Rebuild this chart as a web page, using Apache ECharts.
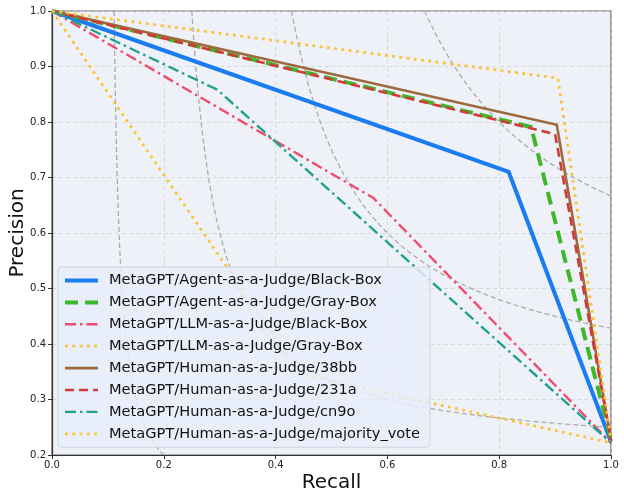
<!DOCTYPE html>
<html>
<head>
<meta charset="utf-8">
<script src="https://cdn.jsdelivr.net/npm/echarts@6/dist/echarts.min.js"></script>
<style>html,body{margin:0;padding:0;background:#fff}#c{width:624px;height:495px}</style>
</head>
<body>
<div id="c"></div>
<script>
// ---- data ----
const xTicks = [0.0, 0.2, 0.4, 0.6, 0.8, 1.0];
const yTicks = [0.2, 0.3, 0.4, 0.5, 0.6, 0.7, 0.8, 0.9, 1.0];
const seriesNames = [
  'MetaGPT/Agent-as-a-Judge/Black-Box',
  'MetaGPT/Agent-as-a-Judge/Gray-Box',
  'MetaGPT/LLM-as-a-Judge/Black-Box',
  'MetaGPT/LLM-as-a-Judge/Gray-Box',
  'MetaGPT/Human-as-a-Judge/38bb',
  'MetaGPT/Human-as-a-Judge/231a',
  'MetaGPT/Human-as-a-Judge/cn9o',
  'MetaGPT/Human-as-a-Judge/majority_vote'
];
// [recall, precision]
const agentBlackBox = [[0, 1.0], [0.817, 0.710], [1.0, 0.224]];
const agentGrayBox  = [[0, 1.0], [0.857, 0.791], [1.0, 0.228]];
const llmBlackBox   = [[0, 1.0], [0.575, 0.663], [1.0, 0.222]];
const llmGrayBox    = [[0, 1.0], [0.443, 0.346], [1.0, 0.222]];
const human38bb     = [[0, 1.0], [0.903, 0.795], [1.0, 0.226]];
const human231a     = [[0, 1.0], [0.900, 0.778], [1.0, 0.226]];
const humanCn9o     = [[0, 1.0], [0.296, 0.858], [1.0, 0.222]];
const humanMajority = [[0, 1.0], [0.905, 0.879], [1.0, 0.226]];
// iso-F1 reference levels
const isoF1Levels = [0.2, 0.4, 0.6, 0.8];

const seriesData = [agentBlackBox, agentGrayBox, llmBlackBox, llmGrayBox, human38bb, human231a, humanCn9o, humanMajority];
const styles = [
  {color: '#1b7cf2', width: 4,   type: 'solid'},
  {color: '#3eb82a', width: 4,   type: [13, 7]},
  {color: '#ef4d6c', width: 2.4, type: [11, 4, 2.5, 4]},
  {color: '#fdc238', width: 2.8, type: [2.8, 4.5]},
  {color: '#9c6a3c', width: 2.6, type: 'solid'},
  {color: '#d3393b', width: 2.6, type: [9, 5]},
  {color: '#22a08e', width: 2.4, type: [11, 4, 2.5, 4]},
  {color: '#fdc238', width: 2.8, type: [2.8, 4.5]}
];

// iso-F1 curves: P = f*R / (2R - f), restricted to the visible precision range
function isoCurve(f) {
  const pts = [];
  const rStart = f / (2 - f);
  const rEnd = f < 0.4 ? (0.2 * f) / (0.4 - f) : 1.0;
  const n = 120;
  for (let i = 0; i <= n; i++) {
    const r = rStart + (rEnd - rStart) * i / n;
    const p = f * r / (2 * r - f);
    pts.push([r, p]);
  }
  return pts;
}

const series = [];
isoF1Levels.forEach(f => {
  series.push({
    type: 'line', name: 'iso' + f, data: isoCurve(f), showSymbol: false, symbol: 'none',
    silent: true, z: 1, legendHoverLink: false,
    lineStyle: {color: '#aaaaaa', width: 1.3, type: [5, 3]}
  });
});
seriesNames.forEach((name, i) => {
  series.push({
    type: 'line', name: name, data: seriesData[i], symbol: 'none', showSymbol: false, z: 2 + i * 0.01,
    lineStyle: {color: styles[i].color, width: styles[i].width, type: styles[i].type, cap: 'butt', join: 'miter'},
    itemStyle: {color: styles[i].color}
  });
});

const legendData = seriesNames.map((name, i) => ({
  name: name,
  itemStyle: {opacity: 0},
  lineStyle: {color: styles[i].color, width: styles[i].width, type: styles[i].type, cap: 'butt'}
}));

const chart = echarts.init(document.getElementById('c'), null, {renderer: 'canvas'});
chart.setOption({
  animation: false,
  backgroundColor: '#ffffff',
  grid: {left: 52, right: 13, top: 11, bottom: 40, containLabel: false, outerBoundsMode: 'none',
         show: true, backgroundColor: '#eef2f8', borderColor: '#666', borderWidth: 1.2},
  legend: {
    data: legendData,
    orient: 'vertical', left: 58, top: 267,
    itemWidth: 33, itemHeight: 12, itemGap: 6.9,
    padding: [6, 10, 6, 5],
    backgroundColor: 'rgba(232,238,250,0.82)', borderColor: '#d0d4dc', borderWidth: 1, borderRadius: 4,
    itemStyle: {opacity: 0},
    textStyle: {fontFamily: 'DejaVu Sans', fontSize: 14.6, color: '#111', padding: [0, 0, 0, 6]}
  },
  xAxis: {
    type: 'value', min: xTicks[0], max: xTicks[xTicks.length - 1], interval: 0.2,
    name: 'Recall', nameLocation: 'middle', nameGap: 18, nameMoveOverlap: false,
    nameTextStyle: {fontFamily: 'DejaVu Sans', fontSize: 20, color: '#111', verticalAlign: 'top'},
    axisLine: {show: true, lineStyle: {color: '#333', width: 1.2}},
    axisTick: {show: true, length: 4, lineStyle: {color: '#333'}},
    axisLabel: {fontFamily: 'DejaVu Sans', fontSize: 10, color: '#222', margin: 5, formatter: v => v.toFixed(1)},
    splitLine: {show: true, lineStyle: {color: '#d2d2d2', width: 0.8, type: [4, 3]}}
  },
  yAxis: {
    type: 'value', min: yTicks[0], max: yTicks[yTicks.length - 1], interval: 0.1,
    name: 'Precision', nameLocation: 'middle', nameGap: 24, nameMoveOverlap: false,
    nameTextStyle: {fontFamily: 'DejaVu Sans', fontSize: 20, color: '#111', verticalAlign: 'bottom'},
    axisLine: {show: true, lineStyle: {color: '#333', width: 1.2}},
    axisTick: {show: true, length: 4, lineStyle: {color: '#333'}},
    axisLabel: {fontFamily: 'DejaVu Sans', fontSize: 10, color: '#222', margin: 6, formatter: v => v.toFixed(1)},
    splitLine: {show: true, lineStyle: {color: '#d2d2d2', width: 0.8, type: [4, 3]}}
  },
  series: series
});
</script>
</body>
</html>
